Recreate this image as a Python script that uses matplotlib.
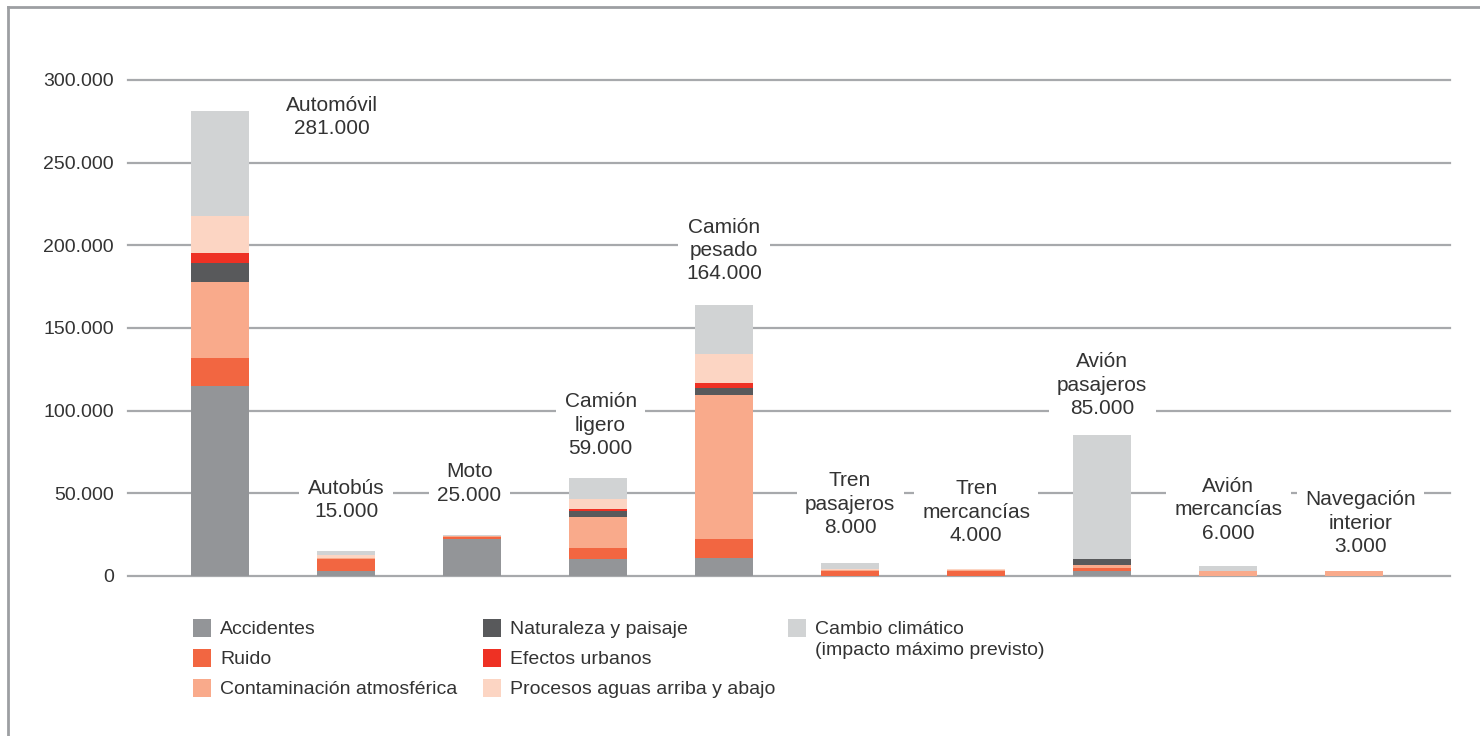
import matplotlib
matplotlib.use("Agg")
import matplotlib.pyplot as plt
from matplotlib.lines import Line2D
from matplotlib.patches import Rectangle
import numpy as np

plt.rcParams['font.family'] = ['Liberation Sans', 'DejaVu Sans']

# Costes externos del transporte por modo
modos = ["Automóvil", "Autobús", "Moto", "Camión\nligero", "Camión\npesado",
         "Tren\npasajeros", "Tren\nmercancías", "Avión\npasajeros",
         "Avión\nmercancías", "Navegación\ninterior"]

accidentes = [115000, 3000, 22500, 10000, 11000, 0, 0, 3000, 0, 0]
ruido = [17000, 7000, 1200, 6700, 11500, 3000, 2800, 2000, 0, 0]
contaminacion = [46000, 1000, 300, 18800, 87000, 800, 800, 1500, 3000, 3000]
naturaleza = [11500, 0, 0, 3800, 4500, 0, 0, 3500, 0, 0]
efectos_urbanos = [6000, 0, 0, 1000, 3000, 0, 0, 0, 0, 0]
procesos = [22000, 1500, 400, 6000, 17500, 600, 400, 0, 0, 0]
cambio_climatico = [63500, 2500, 600, 12700, 29500, 3600, 0, 75000, 3000, 0]

y_ticks = [0, 50000, 100000, 150000, 200000, 250000, 300000]

series = [
    ("Accidentes", accidentes, "#939598"),
    ("Ruido", ruido, "#f26641"),
    ("Contaminación atmosférica", contaminacion, "#f9aa8b"),
    ("Naturaleza y paisaje", naturaleza, "#58595b"),
    ("Efectos urbanos", efectos_urbanos, "#ee3124"),
    ("Procesos aguas arriba y abajo", procesos, "#fcd5c3"),
    ("Cambio climático\n(impacto máximo previsto)", cambio_climatico, "#d1d3d4"),
]

# posicion del rotulo de cada modo (x en unidades de barra, y en euros)
label_x = [0.89, 1.0, 1.98, 3.02, 4.0, 5.0, 6.0, 7.0, 8.0, 9.05]
label_y = [277600, 46000, 56000, 91300, 197000, 43500, 38700, 115500, 40000, 32000]

text_color = "#333333"
grid_color = "#a7a9ac"


def fmt(v):
    return f"{int(v):,}".replace(",", ".")


W, H = 1480, 736
fig = plt.figure(figsize=(W / 100, H / 100), dpi=100)
ax = fig.add_axes([128 / W, 1 - 576 / H, (1450 - 128) / W, (576 - 80) / H])

x = np.arange(len(modos))
bottom = np.zeros(len(modos))
for name, vals, color in series:
    vals = np.array(vals, dtype=float)
    ax.bar(x, vals, bottom=bottom, width=0.46, color=color, linewidth=0, zorder=3)
    bottom += vals
totals = bottom

for t in y_ticks:
    ax.axhline(t, color=grid_color, linewidth=1.6, zorder=1, clip_on=False)

for i, modo in enumerate(modos):
    ax.text(label_x[i], label_y[i], f"{modo}\n{fmt(totals[i])}", ha="center", va="center",
            fontsize=15, color=text_color, linespacing=1.28, zorder=4,
            bbox=dict(facecolor="white", edgecolor="none", pad=6))

ax.set_xlim(-0.73, 9.76)
ax.set_ylim(0, 300000)
ax.set_yticks(y_ticks)
ax.set_yticklabels([fmt(t) for t in y_ticks], fontsize=14, color=text_color)
ax.set_xticks([])
ax.tick_params(axis="y", length=0, pad=10)
for s in ax.spines.values():
    s.set_visible(False)

# leyenda en tres columnas
cols_x = [193, 483, 788]
rows_y = [628, 658, 688]
for k, (name, vals, color) in enumerate(series):
    cx = cols_x[k // 3]
    cy = rows_y[k % 3]
    fig.patches.append(Rectangle((cx / W, 1 - (cy + 9) / H), 18 / W, 18 / H,
                                 transform=fig.transFigure, facecolor=color,
                                 edgecolor="none"))
    fig.text((cx + 27) / W, 1 - (cy - 7) / H, name, ha="left", va="top",
             fontsize=14, color=text_color, linespacing=1.3)

# marco
fig.add_artist(Line2D([8 / W, 1], [1 - 7 / H, 1 - 7 / H], color="#9d9fa2", linewidth=2))
fig.add_artist(Line2D([8 / W, 8 / W], [0, 1 - 7 / H], color="#9d9fa2", linewidth=2))

fig.savefig("out.png", dpi=100, facecolor="white")
